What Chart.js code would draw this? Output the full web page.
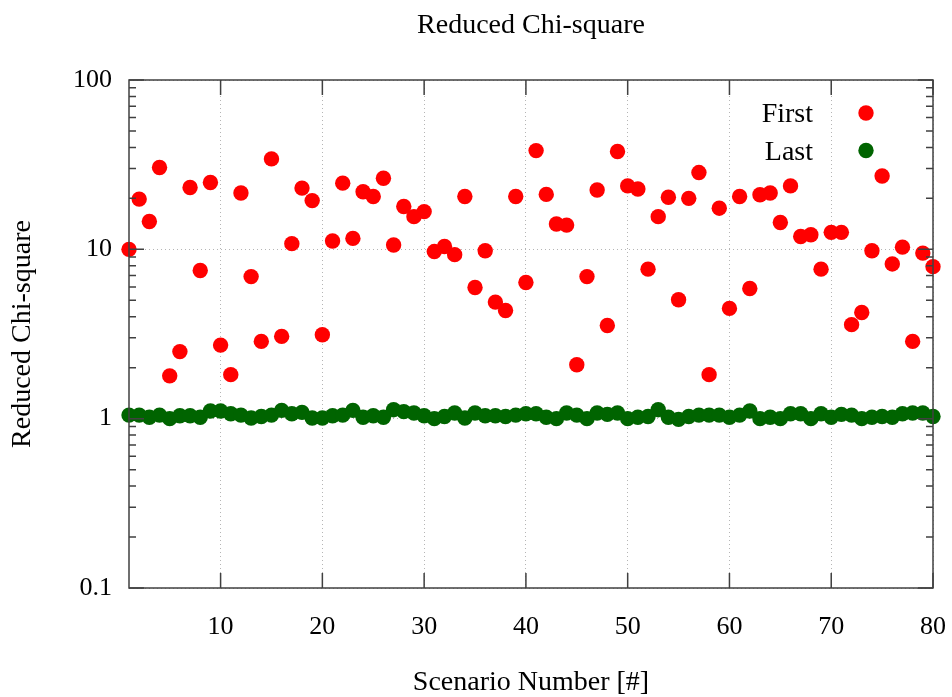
<!DOCTYPE html>
<html>
<head>
<meta charset="utf-8">
<title>Reduced Chi-square</title>
<script src="https://cdn.jsdelivr.net/npm/chart.js@4.4.0/dist/chart.umd.min.js"></script>
<style>
  html, body { margin: 0; padding: 0; background: #fff; }
  canvas { display: block; }
</style>
</head>
<body>
<canvas id="chi-chart" width="952" height="697"></canvas>
<script>
// ========== Data ==========

const scenarios = [
  1, 2, 3, 4, 5, 6, 7, 8, 9, 10,
  11, 12, 13, 14, 15, 16, 17, 18, 19, 20,
  21, 22, 23, 24, 25, 26, 27, 28, 29, 30,
  31, 32, 33, 34, 35, 36, 37, 38, 39, 40,
  41, 42, 43, 44, 45, 46, 47, 48, 49, 50,
  51, 52, 53, 54, 55, 56, 57, 58, 59, 60,
  61, 62, 63, 64, 65, 66, 67, 68, 69, 70,
  71, 72, 73, 74, 75, 76, 77, 78, 79, 80,
];

const firstChi = [
  10.0, 19.8, 14.6, 30.4, 1.79, 2.49, 23.2, 7.5, 24.8, 2.72,
  1.82, 21.5, 6.9, 2.86, 34.2, 3.06, 10.8, 23.0, 19.4, 3.13,
  11.2, 24.6, 11.6, 21.9, 20.5, 26.3, 10.6, 17.9, 15.6, 16.7,
  9.7, 10.4, 9.3, 20.5, 5.95, 9.8, 4.88, 4.35, 20.5, 6.37,
  38.3, 21.1, 14.1, 13.9, 2.08, 6.9, 22.4, 3.55, 37.8, 23.7,
  22.7, 7.64, 15.6, 20.3, 5.04, 20.0, 28.4, 1.82, 17.5, 4.48,
  20.5, 5.87, 21.0, 21.5, 14.4, 23.7, 11.9, 12.2, 7.64, 12.6,
  12.6, 3.59, 4.24, 9.8, 27.1, 8.2, 10.3, 2.86, 9.5, 7.9,
];

const lastChi = [
  1.05, 1.05, 1.02, 1.05, 1.00, 1.04, 1.04, 1.02, 1.11, 1.11,
  1.07, 1.05, 1.01, 1.03, 1.05, 1.12, 1.07, 1.09, 1.01, 1.01,
  1.04, 1.05, 1.12, 1.02, 1.04, 1.02, 1.13, 1.10, 1.08, 1.04,
  1.00, 1.03, 1.08, 1.01, 1.08, 1.04, 1.04, 1.03, 1.05, 1.07,
  1.07, 1.02, 1.00, 1.08, 1.05, 1.00, 1.08, 1.06, 1.08, 1.00,
  1.02, 1.03, 1.13, 1.02, 0.99, 1.03, 1.05, 1.05, 1.05, 1.02,
  1.05, 1.11, 1.00, 1.02, 1.00, 1.07, 1.07, 1.00, 1.07, 1.02,
  1.06, 1.05, 1.00, 1.02, 1.03, 1.02, 1.07, 1.08, 1.08, 1.03,
];

const xTicks = [10, 20, 30, 40, 50, 60, 70, 80];
const yTicks = [0.1, 1, 10, 100];

// ========== Frame, inward ticks and legend (gnuplot look) ==========

const FAMILY = '"Liberation Serif", "Times New Roman", serif';
const TICK_SIZE = 26;
const LABEL_SIZE = 28;

const gnuplotFrame = {
  id: 'gnuplotFrame',
  afterLayout(chart) {
    // centre the title over the plot box, like gnuplot does
    if (chart.titleBlock) {
      chart.titleBlock.left = chart.chartArea.left;
      chart.titleBlock.right = chart.chartArea.right;
    }
  },
  afterDatasetsDraw(chart) {
    const { ctx, chartArea: a, scales: { x, y } } = chart;
    ctx.save();
    ctx.strokeStyle = '#404040';
    ctx.lineWidth = 1.5;
    ctx.strokeRect(a.left, a.top, a.right - a.left, a.bottom - a.top);

    ctx.beginPath();
    xTicks.forEach(v => {
      const px = x.getPixelForValue(v);
      ctx.moveTo(px, a.bottom); ctx.lineTo(px, a.bottom - 15);
      ctx.moveTo(px, a.top); ctx.lineTo(px, a.top + 15);
    });
    yTicks.forEach((v, i) => {
      const py = y.getPixelForValue(v);
      ctx.moveTo(a.left, py); ctx.lineTo(a.left + 15, py);
      ctx.moveTo(a.right, py); ctx.lineTo(a.right - 15, py);
      if (i === yTicks.length - 1) return;
      // minor ticks 2..9 inside each decade
      for (let m = 2; m <= 9; m++) {
        const pm = y.getPixelForValue(v * m);
        ctx.moveTo(a.left, pm); ctx.lineTo(a.left + 7, pm);
        ctx.moveTo(a.right, pm); ctx.lineTo(a.right - 7, pm);
      }
    });
    ctx.stroke();
    ctx.restore();
  },
  afterDraw(chart) {
    const { ctx, chartArea: a } = chart;
    ctx.save();
    ctx.font = `${LABEL_SIZE}px ${FAMILY}`;
    ctx.textAlign = 'right';
    ctx.textBaseline = 'middle';
    chart.data.datasets.forEach((ds, i) => {
      const rowY = a.top + 35 + i * 37.5;
      ctx.fillStyle = '#000';
      ctx.fillText(ds.label, a.right - 120, rowY);
      ctx.fillStyle = ds.backgroundColor;
      ctx.beginPath();
      ctx.arc(a.right - 67, rowY - 2, ds.pointRadius, 0, Math.PI * 2);
      ctx.fill();
    });
    ctx.restore();
  },
};

// ========== Chart ==========

Chart.defaults.font.family = FAMILY;
Chart.defaults.font.size = TICK_SIZE;
Chart.defaults.color = '#000';

const toPoints = values => scenarios.map((s, i) => ({ x: s, y: values[i] }));

new Chart(document.getElementById('chi-chart'), {
  type: 'scatter',
  data: {
    datasets: [{
      label: 'First',
      data: toPoints(firstChi),
      backgroundColor: '#ff0000',
      borderWidth: 0,
      pointRadius: 7.7,
      pointHoverRadius: 7.7,
      clip: false,
    }, {
      label: 'Last',
      data: toPoints(lastChi),
      backgroundColor: '#006400',
      borderWidth: 0,
      pointRadius: 7.7,
      pointHoverRadius: 7.7,
      clip: false,
    }],
  },
  options: {
    responsive: false,
    animation: false,
    layout: { padding: { left: 0, right: 19, top: 0, bottom: 0 } },
    scales: {
      x: {
        type: 'linear',
        min: 1,
        max: 80,
        afterBuildTicks: s => { s.ticks = xTicks.map(v => ({ value: v })); },
        afterFit: s => {
          s.height = 109;
          s.paddingLeft = 0;
          s.paddingRight = 0;
        },
        ticks: { padding: 24, maxRotation: 0, autoSkip: false },
        grid: { color: 'rgba(150,150,150,0.7)', lineWidth: 1, drawTicks: false },
        border: { display: false, dash: [1, 3] },
        title: {
          display: true,
          text: 'Scenario Number [#]',
          font: { size: LABEL_SIZE },
          padding: { top: 0, bottom: -2 },
        },
      },
      y: {
        type: 'logarithmic',
        min: 0.1,
        max: 100,
        afterBuildTicks: s => { s.ticks = yTicks.map(v => ({ value: v })); },
        afterFit: s => { s.width = 129; },
        ticks: { padding: 17, autoSkip: false, callback: v => String(v) },
        grid: { color: 'rgba(150,150,150,0.7)', lineWidth: 1, drawTicks: false },
        border: { display: false, dash: [1, 3] },
        title: {
          display: true,
          text: 'Reduced Chi-square',
          font: { size: LABEL_SIZE },
          padding: { top: 6, bottom: 0 },
        },
      },
    },
    plugins: {
      legend: { display: false },
      tooltip: { enabled: false },
      title: {
        display: true,
        text: 'Reduced Chi-square',
        font: { size: LABEL_SIZE, weight: 'normal' },
        padding: { top: 9, bottom: 37.4 },
      },
    },
  },
  plugins: [gnuplotFrame],
});
</script>
</body>
</html>
